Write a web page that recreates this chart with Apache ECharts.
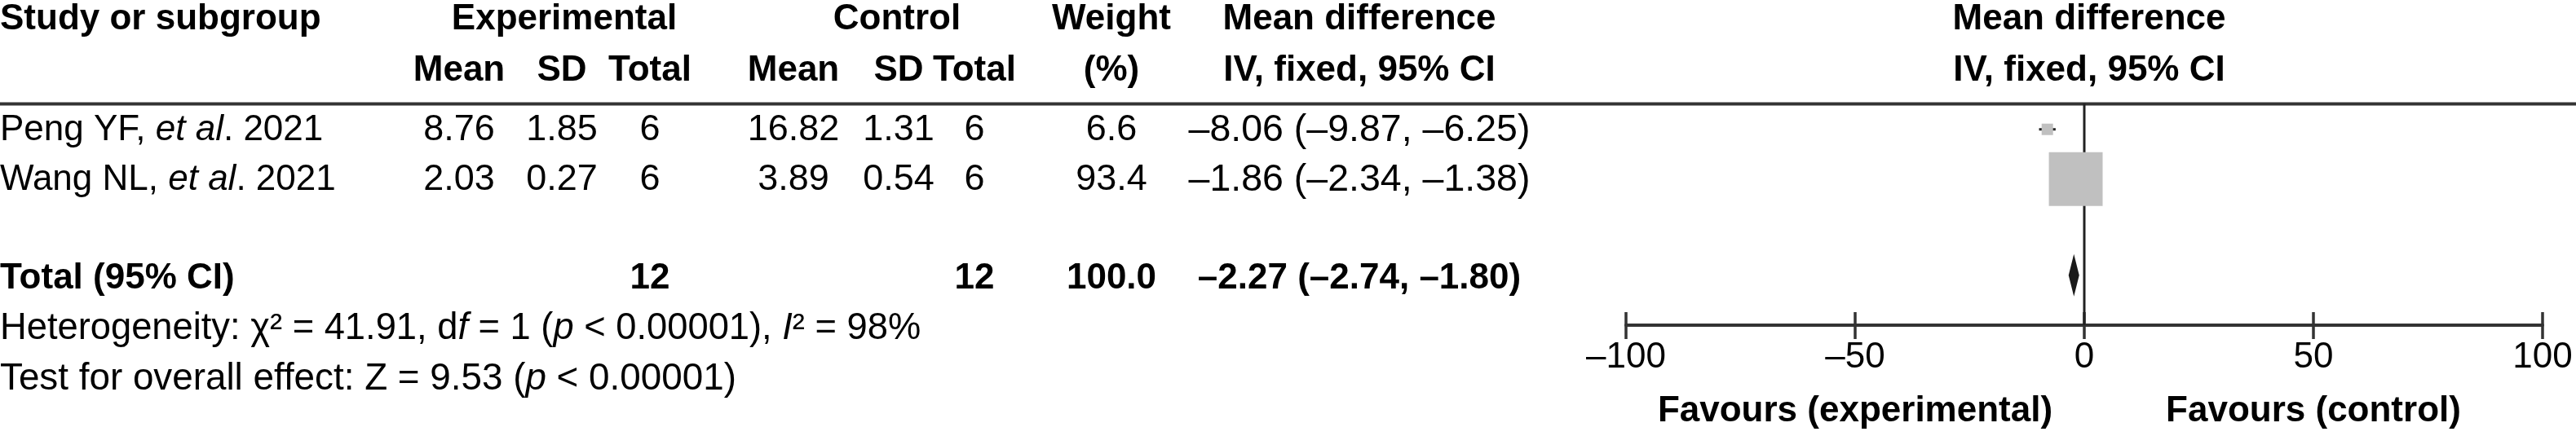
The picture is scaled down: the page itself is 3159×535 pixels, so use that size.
<!DOCTYPE html>
<html><head><meta charset="utf-8">
<script src="https://cdn.jsdelivr.net/npm/echarts@6/dist/echarts.min.js"></script>
<style>html,body{margin:0;padding:0;background:#fff}#c{width:3159px;height:535px}</style>
</head><body><div id="c"></div>
<script>
// ---- data ----
const studyNames = ['Peng YF', 'Wang NL'];
const studyYears = ['2021', '2021'];
const expMean = [8.76, 2.03];
const expSD = [1.85, 0.27];
const expN = [6, 6];
const ctlMean = [16.82, 3.89];
const ctlSD = [1.31, 0.54];
const ctlN = [6, 6];
const weights = [6.6, 93.4];
const md = [-8.06, -1.86];
const mdLow = [-9.87, -2.34];
const mdHigh = [-6.25, -1.38];
const totalExpN = 12;
const totalCtlN = 12;
const totalWeight = 100.0;
const totalMD = [-2.27];
const totalLow = [-2.74];
const totalHigh = [-1.80];
const hetChi2 = '41.91';
const hetDf = '1';
const hetP = '0.00001';
const hetI2 = '98';
const effectZ = '9.53';
const effectP = '0.00001';
const xTickValues = [-100, -50, 0, 50, 100];
const favourLabels = ['Favours (experimental)', 'Favours (control)'];

// ---- helpers ----
const FONT = '"Liberation Sans", Arial, sans-serif';
const FS = 44;
const neg = s => s.replace(/-/g, '\u2013');
const f2 = v => neg(v.toFixed(2));
const ciText = (m, l, h) => `${f2(m)} (${f2(l)}, ${f2(h)})`;

const Y_MIN = -0.52, Y_MAX = 3.94;
const TOTAL_ROW = 3;

const chart = echarts.init(document.getElementById('c'), null, {renderer: 'canvas'});

const studySeriesData = studyNames.map((n, i) => [md[i], i, mdLow[i], mdHigh[i], weights[i]]);
const totalSeriesData = totalMD.map((m, i) => [m, TOTAL_ROW, totalLow[i], totalHigh[i]]);

chart.setOption({
  animation: false,
  backgroundColor: '#fff',
  grid: {left: 1994, right: 41, top: 127, bottom: 136, containLabel: false},
  xAxis: [{
    type: 'value', min: -100, max: 100, interval: 50, position: 'bottom',
    axisLine: {show: true, onZero: false, lineStyle: {color: '#333', width: 4}},
    axisTick: {show: true, length: 17, lineStyle: {color: '#333', width: 3.5}},
    axisLabel: {fontSize: 44, fontFamily: FONT, color: '#000', margin: 18,
      formatter: v => xTickValues.includes(v) ? neg(String(v)) : ''},
    splitLine: {show: false}
  }, {
    type: 'value', min: -100, max: 100, interval: 50, position: 'bottom', offset: 0,
    axisLine: {show: false, onZero: false},
    axisTick: {show: true, inside: true, length: 16, lineStyle: {color: '#333', width: 3.5}},
    axisLabel: {show: false}, splitLine: {show: false}
  }],
  yAxis: {type: 'value', min: Y_MIN, max: Y_MAX, inverse: true, show: false, splitLine: {show: false}},
  series: [{
    type: 'line', xAxisIndex: 0, data: [[0, Y_MIN], [0, Y_MAX]], symbol: 'none', z: 1,
    lineStyle: {color: '#222', width: 3}, silent: true
  }, {
    type: 'custom', xAxisIndex: 0, z: 3, data: studySeriesData,
    renderItem(params, api) {
      const y = api.value(1);
      const c = api.coord([api.value(0), y]);
      const lo = api.coord([api.value(2), y]);
      const hi = api.coord([api.value(3), y]);
      const s = 4.64 * Math.pow(api.value(4), 0.585);
      return {type: 'group', children: [
        {type: 'line', shape: {x1: lo[0], y1: c[1], x2: hi[0], y2: c[1]}, style: {stroke: '#222', lineWidth: 3}},
        {type: 'rect', shape: {x: c[0] - s / 2, y: c[1] - s / 2, width: s, height: s}, style: {fill: '#c0c0c0'}}
      ]};
    }
  }, {
    type: 'custom', xAxisIndex: 0, z: 3, data: totalSeriesData,
    renderItem(params, api) {
      const y = api.value(1);
      const c = api.coord([api.value(0), y]);
      const lo = api.coord([api.value(2), y]);
      const hi = api.coord([api.value(3), y]);
      const lx = Math.min(lo[0], c[0] - 6.5), rx = Math.max(hi[0], c[0] + 6.5);
      const cy = c[1] - 4, h = 26;
      return {type: 'polygon', shape: {points: [[lx, cy], [c[0], cy - h], [rx, cy], [c[0], cy + h]]},
        style: {fill: '#1a1a1a'}};
    }
  }]
});

const py = r => chart.convertToPixel({yAxisIndex: 0}, r);
const px = v => chart.convertToPixel({xAxisIndex: 0}, v);

const g = [];
function T(text, x, y, opts = {}) {
  g.push({type: 'text', x, y, silent: true, style: Object.assign({
    text, fontSize: FS, fontFamily: FONT, fill: '#000', align: 'center', verticalAlign: 'middle'
  }, opts)});
}
const B = {fontWeight: 'bold'};
const H1 = 24, H2 = 87;
const C = {eM: 563, eS: 689, eT: 797, cM: 973, cS: 1102, cT: 1195, w: 1363, md: 1667, plot: 2562};

T('Study or subgroup', 0, H1, Object.assign({align: 'left'}, B));
T('Experimental', 692, H1, B);
T('Control', 1100, H1, B);
T('Weight', C.w, H1, B);
T('Mean difference', C.md, H1, B);
T('Mean difference', C.plot, H1, B);
T('Mean', C.eM, H2, B); T('SD', C.eS, H2, B); T('Total', C.eT, H2, B);
T('Mean', C.cM, H2, B); T('SD', C.cS, H2, B); T('Total', C.cT, H2, B);
T('(%)', C.w, H2, B);
T('IV, fixed, 95% CI', C.md, H2, B);
T('IV, fixed, 95% CI', C.plot, H2, B);

const mkRich = fs => ({
  n: {fontSize: fs, fontFamily: FONT, fill: '#000', color: '#000'},
  i: {fontSize: fs, fontFamily: FONT, fontStyle: 'italic', fill: '#000', color: '#000'}
});
studyNames.forEach((n, i) => {
  const y = py(i) + 1;
  T(`{n|${n}, }{i|et al}{n|. ${studyYears[i]}}`, 0, y, {align: 'left', rich: mkRich(FS)});
  T(expMean[i].toFixed(2), C.eM, y, {fontSize: 45}); T(expSD[i].toFixed(2), C.eS, y, {fontSize: 45}); T(String(expN[i]), C.eT, y, {fontSize: 45});
  T(ctlMean[i].toFixed(2), C.cM, y, {fontSize: 45}); T(ctlSD[i].toFixed(2), C.cS, y, {fontSize: 45}); T(String(ctlN[i]), C.cT, y, {fontSize: 45});
  T(weights[i].toFixed(1), C.w, y, {fontSize: 45});
  T(ciText(md[i], mdLow[i], mdHigh[i]), C.md, y, {fontSize: 46.5});
});
const yt = py(TOTAL_ROW);
T('Total (95% CI)', 0, yt, Object.assign({align: 'left'}, B));
T(String(totalExpN), C.eT, yt, B);
T(String(totalCtlN), C.cT, yt, B);
T(totalWeight.toFixed(1), C.w, yt, B);
T(ciText(totalMD[0], totalLow[0], totalHigh[0]), C.md, yt, B);
T(`{n|Heterogeneity: χ² = ${hetChi2}, d}{i|f}{n| = ${hetDf} (}{i|p}{n| < ${hetP}), }{i|I}{n|² = ${hetI2}%}`, 0, py(4) + 1, {align: 'left', rich: mkRich(45.3)});
T(`{n|Test for overall effect: Z = ${effectZ} (}{i|p}{n| < ${effectP})}`, 0, py(5) + 2, {align: 'left', rich: mkRich(45.8)});
T(favourLabels[0], px(-50), 505, B);
T(favourLabels[1], px(50), 505, B);
g.push({type: 'line', silent: true, shape: {x1: 0, y1: 127.5, x2: 3159, y2: 127.5}, style: {stroke: '#333', lineWidth: 4}});

chart.setOption({graphic: g});
</script></body></html>
